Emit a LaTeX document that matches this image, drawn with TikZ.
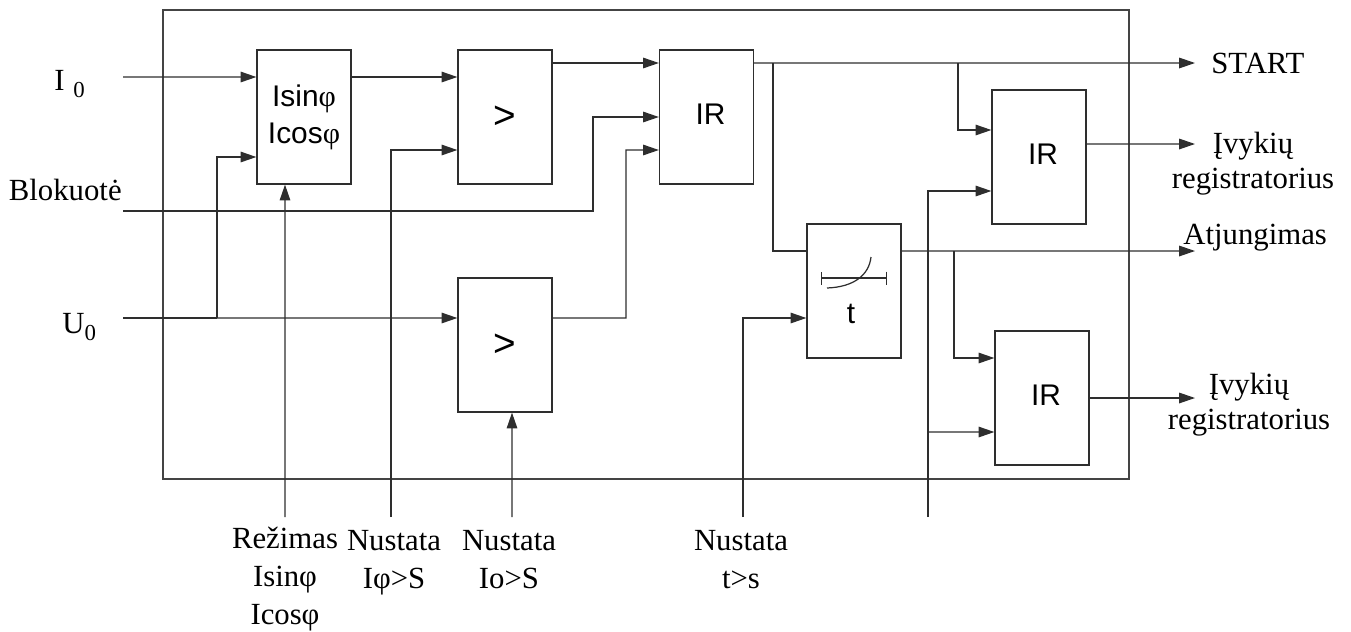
\documentclass[tikz,border=0pt]{standalone}
\usepackage{fontspec}
\setmainfont{Liberation Serif}
\setsansfont{Liberation Sans}
\usepackage{xcolor}
\usepackage{tikz}
\usetikzlibrary{arrows.meta,positioning,calc}
\definecolor{WireGray}{HTML}{2E2E2E}
\definecolor{FrameGray}{HTML}{444444}

\begin{document}
\begin{tikzpicture}[
    x=0.2mm,y=-0.2mm,
    box/.style={draw=WireGray,line width=0.7pt,fill=white,inner sep=0pt,
      minimum width=18.8mm,minimum height=26.8mm,align=center,
      font=\sffamily\fontsize{17}{21}\selectfont},
    lbl/.style={inner sep=0pt,align=center,font=\fontsize{17.5}{20}\selectfont},
    lowlbl/.style={lbl,anchor=north,font=\fontsize{17.5}{21.5}\selectfont},
    wire/.style={line width=0.7pt,color=WireGray},
    arrow/.style={wire,-{Triangle[length=9pt,width=6pt]}}
  ]
    \useasboundingbox (0,0) rectangle (1351,631);
    % protection unit frame
    \draw[line width=0.7pt,color=FrameGray] (163,10) rectangle (1129,479);

    % blocks
    \node[box] (sincos) at (304,117) {Isin{\rmfamily φ}\\Icos{\rmfamily φ}};
    \node[box] (cmpI) at (505,117) {\fontsize{22}{22}\selectfont >};
    \node[box] (and1) at (706.5,117) {\hspace*{1.6mm}\raisebox{1.3mm}{IR}};
    \node[box] (cmpU) at (505,345) {\fontsize{22}{22}\selectfont >};
    \node[box] (timer) at (854,291) {};
    \node[inner sep=0pt,font=\sffamily\fontsize{17}{20}\selectfont] (tlbl) at (851,314) {t};
    \node[box] (and2) at (1039,157) {\hspace*{1.6mm}\raisebox{1.3mm}{IR}};
    \node[box] (and3) at (1042,398) {\hspace*{1.6mm}\raisebox{1.3mm}{IR}};

    % timer symbol
    \draw[wire,{Bar[width=7.4pt]}-{Bar[width=7.4pt]}] (821,278) -- (887,278);
    \draw[wire] (827,288) .. controls (854,287) and (869,275) .. (871,257);

    % inputs and outputs
    \node[lbl,anchor=base west] (lI0) at (54,90) {I\hspace{5pt}\raisebox{-4pt}{\fontsize{13}{13}\selectfont 0}};
    \node[lbl,anchor=base east] (lblk) at (122,200) {Blokuotė};
    \node[lbl,anchor=base west] (lU0) at (62,333) {U\raisebox{-4pt}{\fontsize{13}{13}\selectfont 0}};
    \node[lowlbl] (lrez) at (285,527) {Režimas\\Isinφ\\Icosφ};
    \node[lowlbl] (lsetI) at (394,530) {Nustata\\Iφ>S};
    \node[lowlbl] (lsetU) at (509,530) {Nustata\\Io>S};
    \node[lowlbl] (lsett) at (741,530) {Nustata\\t>s};
    \node[lbl,anchor=base west] (lstart) at (1211,73) {START};
    \node[lbl,anchor=north] (lev1) at (1253,132) {Įvykių\\registratorius};
    \node[lbl,anchor=base west] (ltrip) at (1183,244) {Atjungimas};
    \node[lbl,anchor=north] (lev2) at (1249,373) {Įvykių\\registratorius};

    \coordinate (i0) at (123,77);
    \coordinate (blk) at (123,211);
    \coordinate (u0) at (123,318);
    \coordinate (jU) at (217,318);
    \coordinate (jB) at (593,211);
    \coordinate (jC) at (626,318);
    \coordinate (jS1) at (773,63);
    \coordinate (jS2) at (958,63);
    \coordinate (jT) at (954,251);
    \coordinate (jR) at (928,432);
    \coordinate (rez) at (285,517);
    \coordinate (setI) at (391,517);
    \coordinate (setU) at (512,517);
    \coordinate (sett) at (743,517);
    \coordinate (reg) at (928,517);
    \coordinate (oStart) at (1195,63);
    \coordinate (oEv1) at (1195,144);
    \coordinate (oTrip) at (1195,251);
    \coordinate (oEv2) at (1195,398);

    % connectors
    \draw[arrow] (i0) -- ([yshift=8mm]sincos.west);
    \draw[wire] (u0) -- (jU);
    \draw[arrow] (jU) |- ([yshift=-8mm]sincos.west);
    \draw[arrow] (rez) -- ([xshift=-3.8mm]sincos.south);
    \draw[arrow] ([yshift=8mm]sincos.east) -- ([yshift=8mm]cmpI.west);
    \draw[arrow] (setI) |- ([yshift=-6.6mm]cmpI.west);
    \draw[arrow] ([yshift=10.8mm]cmpI.east) -- ([yshift=10.8mm]and1.west);
    \draw[arrow] (blk) -- (jB) |- (and1.west);
    \draw[arrow] (jU) -- ([yshift=5.4mm]cmpU.west);
    \draw[arrow] (setU) -- ([xshift=1.4mm]cmpU.south);
    \draw[arrow] ([yshift=5.4mm]cmpU.east) -- (jC) |- ([yshift=-6.6mm]and1.west);
    \draw[arrow] ([yshift=10.8mm]and1.east) -- (oStart);
    \draw[wire] (jS1) |- ([yshift=8mm]timer.west);
    \draw[arrow] (jS2) |- ([yshift=5.4mm]and2.west);
    \draw[arrow] (sett) |- ([yshift=-5.4mm]timer.west);
    \draw[arrow] ([yshift=8mm]timer.east) -- (oTrip);
    \draw[arrow] (jT) |- ([yshift=8mm]and3.west);
    \draw[arrow] (reg) |- ([yshift=-6.8mm]and2.west);
    \draw[arrow] (jR) -- ([yshift=-6.8mm]and3.west);
    \draw[arrow] ([yshift=2.6mm]and2.east) -- (oEv1);
    \draw[arrow] (and3.east) -- (oEv2);
\end{tikzpicture}
\end{document}
